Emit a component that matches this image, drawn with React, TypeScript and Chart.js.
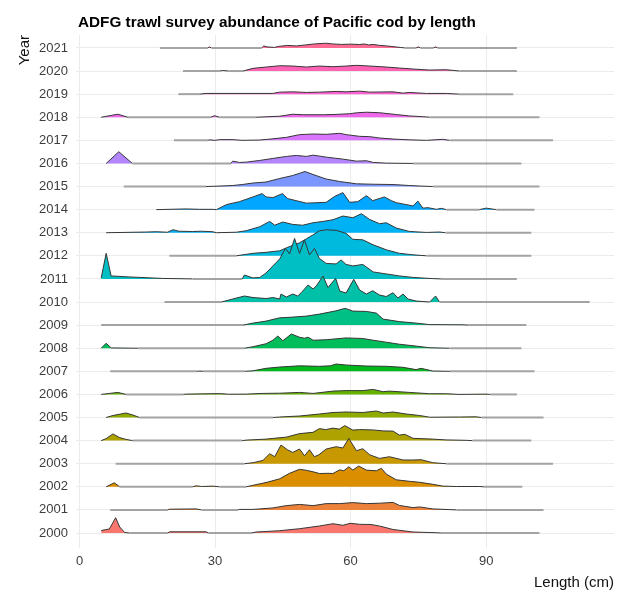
import React, { useEffect, useRef } from 'react';
import { Chart, registerables } from 'chart.js';

Chart.register(...registerables);

const TITLE = 'ADFG trawl survey abundance of Pacific cod by length';
const X_TITLE = 'Length (cm)';
const Y_TITLE = 'Year';
const YEARS = ['2000', '2001', '2002', '2003', '2004', '2005', '2006', '2007', '2008', '2009', '2010',
  '2011', '2012', '2013', '2014', '2015', '2016', '2017', '2018', '2019', '2020', '2021'];
const X_TICKS = [0, 30, 60, 90];

// [length (cm), relative abundance height] per survey year
const R2000 = [[4.8, 2.5], [6.6, 4], [8, 15.3], [8.9, 6], [10, 0.5], [11, 0], [19.5, 0], [20, 1.2], [28, 1.2], [28.5, 0], [38, 0], [39.1, 1], [44.3, 2.3], [48.7, 4.3], [53.1, 7], [56.1, 9.3], [58.3, 7.7], [59.9, 9.7], [62, 8.7], [64.5, 8.5], [66.4, 7], [69.4, 3.5], [73.8, 1], [79, 0.3], [80, 0], [101.8, 0]];
const R2001 = [[6.8, 0], [19.5, 0], [19.9, 0.7], [25.8, 1], [27, 0], [35, 0], [35.4, 0.5], [38.4, 0.5], [42.8, 2], [45.8, 4.3], [48.7, 5.5], [51.7, 4.3], [54.6, 6.3], [57.6, 6.3], [60.5, 7.3], [63.5, 6.3], [66.4, 6.7], [69.4, 7.5], [70.8, 4.5], [73.8, 2.3], [75.3, 3], [78.2, 1], [81.9, 0.3], [83.4, 0], [102.7, 0]];
const R2002 = [[5.9, 0], [7.7, 4], [8.9, 0], [25, 0], [25.8, 1], [27, 0.3], [29.5, 0.7], [31, 0], [36.9, 0], [38.4, 1.5], [41.5, 4.5], [44.3, 8], [46.5, 13.5], [48.7, 17.5], [50.2, 16.5], [51.7, 15], [53.1, 13.3], [55, 13.5], [56.1, 13.3], [57.6, 17], [58.5, 16], [59.6, 20], [60.5, 16.7], [61.8, 20.8], [63.5, 16.7], [65.7, 16], [66.8, 18.5], [67.9, 12.7], [70.1, 7], [73, 5.5], [75.3, 4.5], [78.2, 2.5], [80.4, 0.7], [83.4, 0.3], [88.6, 0.3], [89.5, 0], [98, 0]];
const R2003 = [[8, 0], [36.5, 0], [38.4, 1], [40.6, 3.3], [42.1, 10], [43.2, 7], [44.6, 18.7], [46, 14], [47.2, 11.3], [48.7, 14.7], [49.8, 8], [50.9, 14], [52, 7], [53, 9], [54.6, 14.7], [56.8, 17], [58.3, 15.7], [59.6, 25.3], [61.3, 13], [62.7, 15], [64.2, 9], [66.4, 5.3], [68.6, 7], [71.6, 3.7], [73.8, 3.7], [75.6, 4], [78.2, 1], [81.2, 0], [104.8, 0]];
const R2004 = [[4.8, 0], [5.9, 2], [7.4, 6.7], [8.9, 3], [10.3, 1.2], [11.8, 0], [36, 0], [36.9, 0.5], [41.3, 1.5], [45.8, 3.5], [48.7, 7], [51.7, 8.3], [53.1, 12], [54.5, 11], [56.1, 12.5], [57.5, 11.5], [58.7, 15], [60.5, 10.5], [62, 11], [64.9, 10.7], [67.2, 9.7], [69.4, 9.5], [70.8, 5.5], [72, 6.3], [73.8, 2.3], [78.2, 1.5], [81.2, 0.7], [85.6, 0.3], [87, 0], [100, 0]];
const R2005 = [[5.9, 0], [7.4, 2], [10.3, 4.5], [11.8, 2.5], [13.3, 0], [42.8, 0], [44.3, 0.5], [48.7, 1.5], [53.1, 3.5], [56.1, 5], [59, 5.5], [62.7, 5], [65.7, 6.5], [67.2, 4.5], [69.4, 5.5], [72.3, 3.5], [75.3, 2], [77.5, 0.3], [84.1, 0.5], [87.8, 0.7], [89, 0], [102.7, 0]];
const R2006 = [[4.8, 0], [8.5, 2], [10.3, 0], [23, 0], [23.6, 0.3], [31, 0.8], [33, 0.2], [36.9, 0.3], [40.6, 1], [44.3, 1.2], [48.7, 2], [51.7, 1], [56.1, 3.3], [59, 3.8], [62.7, 3.8], [65, 5], [67.2, 2.7], [68.6, 3.3], [73, 2], [77.5, 0.7], [81.2, 0.7], [84, 0], [90, 0.3], [91, 0], [96.8, 0]];
const R2007 = [[6.8, 0], [26, 0], [26.6, 0.3], [27.5, 0], [36.5, 0], [38.4, 0.5], [41.3, 3], [44.3, 4.3], [48.7, 5.5], [53.1, 5], [55.5, 5.5], [56.8, 7.3], [59, 6.3], [63.5, 5.3], [67.9, 5], [71.6, 4], [74.5, 1.7], [75.6, 3], [78.2, 0.3], [82, 0], [100.7, 0]];
const R2008 = [[4.8, 0], [5.9, 5], [7, 0.3], [13, 0], [36.5, 0], [38.4, 1.5], [41.3, 4.5], [42.8, 8], [43.9, 12.2], [45, 7.5], [46.9, 14.2], [48.7, 11], [49.8, 10], [50.6, 11], [51.7, 8], [54.6, 8.5], [59, 10.3], [62.7, 9.7], [65, 8], [67.9, 6], [70.8, 4], [73.8, 2.5], [77.5, 0.5], [81.9, 0], [97.8, 0]];
const R2009 = [[4.8, 0], [36.2, 0], [38.4, 2], [41.3, 4], [44.3, 7.3], [47.2, 8], [50.2, 9], [53.1, 11], [56.8, 14.3], [58.8, 16.8], [60.5, 14], [63.5, 13.7], [65.7, 12], [67.2, 6], [70.8, 3.5], [73.8, 2.3], [77.5, 0.5], [84.9, 0.3], [86, 0], [98.9, 0]];
const R2010 = [[18.8, 0], [31.4, 0], [33.9, 3], [36.5, 6], [38.4, 4.5], [41.3, 3.5], [42.8, 4.5], [44.3, 3], [44.6, 8], [45.8, 5], [47.2, 8], [48.3, 6], [49.1, 9.5], [50.6, 17], [51.7, 13], [52.4, 16], [53.9, 26], [55, 14.5], [56.7, 23.7], [57.6, 11], [59, 9], [60.7, 22.7], [62, 12], [63.5, 8], [64.9, 11.3], [66.4, 7], [67.9, 5.5], [69.4, 9.3], [70.5, 4], [71.6, 8], [72.7, 3], [74.5, 1], [77.5, 0], [78.8, 6], [79.7, 0], [112.9, 0]];
const R2011 = [[4.8, 1], [5.9, 25.6], [7, 3], [11, 2], [18.4, 0.5], [25, 0], [36, 0], [36.5, 3.9], [38.4, 1], [39.9, 1.5], [41.3, 6], [42.8, 13], [44.3, 20], [45.6, 30.5], [46.5, 25], [47.6, 40.5], [48.7, 25.5], [49.8, 39], [50.9, 24], [52, 30.5], [53.1, 20.5], [54.6, 15.5], [56.8, 15], [57.9, 19], [59, 14.5], [60.5, 13], [62.7, 14.5], [65, 7], [67.9, 5], [70.8, 3], [73.8, 1.5], [78.2, 0.3], [80, 0], [96.8, 0]];
const R2012 = [[19.9, 0], [34.7, 0], [38.4, 2.5], [41.3, 3.5], [44.3, 5], [45.8, 8], [48.7, 13], [50.2, 17], [51.7, 21], [53.1, 25], [54.6, 26], [56.8, 25.5], [59, 22.5], [60.5, 16.5], [62.7, 16], [65, 11], [67.9, 6], [70.8, 2.5], [73.8, 1], [76.8, 0], [100, 0]];
const R2013 = [[5.9, 0], [14.8, 0.7], [17, 1], [19.5, 0.5], [20.7, 3], [22, 1.5], [25, 1.2], [27, 1.5], [29.5, 1], [30.3, 0], [34.7, 0.5], [36.9, 2], [39.9, 6], [42.1, 11.3], [43.2, 7.5], [45, 10.7], [47.2, 8.3], [49.4, 7.5], [51.7, 10], [53.9, 11.3], [56.1, 13], [58.3, 16.7], [60.5, 15], [62.4, 19], [64.2, 13.3], [66.4, 9], [67.9, 10], [70.1, 4.7], [73, 1.3], [76.8, 0.3], [79.7, 0.7], [81, 0], [100, 0]];
const R2014 = [[17, 0], [23.6, 0.7], [26.6, 0.3], [29.5, 0.3], [30.3, 0], [32.5, 5], [35.4, 8], [38.4, 12.7], [40.4, 16], [41.3, 12.7], [42.8, 12], [44.9, 16], [46.1, 11], [50.2, 6.5], [54.6, 7.3], [56.5, 13.3], [58.3, 17], [59.8, 7.3], [61.6, 8], [63.5, 14], [64.9, 9], [67.5, 12.7], [69, 9], [70.1, 7], [73.8, 3.7], [74.9, 8.5], [76, 1.5], [77.1, 2], [79, 0.3], [80.1, 1.3], [81.2, 0], [88.5, 0], [90, 1.5], [92.3, 0], [100.7, 0]];
const R2015 = [[9.8, 0], [28, 0], [30, 0.3], [33.9, 1], [36, 2], [38.4, 3.5], [41.3, 4.5], [44.3, 8], [47.2, 11], [49.9, 15], [51.7, 12], [54.6, 7.5], [57.6, 5], [61.3, 2.7], [65, 2.3], [69.4, 2], [73, 1], [75.3, 0.5], [78.2, 0], [101.8, 0]];
const R2016 = [[5.9, 0], [8.7, 11.7], [11.7, 0], [33.5, 0], [33.9, 2.3], [35.4, 1], [36.9, 1.3], [39.9, 3], [42.8, 5], [45.8, 7], [48, 8], [50.2, 7], [51.7, 8.3], [54.6, 6.3], [58.3, 4.3], [61.3, 2.3], [63.5, 2.7], [65, 1], [67.9, 0.3], [73.8, 0], [97.8, 0]];
const R2017 = [[20.9, 0], [28.4, 0], [28.8, 0.5], [30, 0], [31, 0.7], [34, 0.7], [36, 0], [39.9, 0.3], [42.8, 1.5], [45.8, 3], [48.7, 5.7], [51.7, 6.3], [54.6, 6], [57.6, 7], [59, 5.7], [62, 4], [64.2, 3.7], [66.4, 2.3], [69.4, 1.3], [73, 0.5], [76.8, 0], [80.4, 1], [81.9, 0], [104.8, 0]];
const R2018 = [[4.8, 0], [8.5, 3], [10.7, 0], [29, 0], [29.9, 1.5], [31, 0], [39, 0], [44.3, 1], [47.2, 3], [49.5, 2.5], [51.7, 2.5], [54, 2.5], [56.1, 2.7], [59.8, 3.5], [61.5, 4.5], [63.5, 5], [66.4, 4.5], [70.1, 2.7], [73, 1.3], [76.8, 0.3], [77.5, 0], [101.8, 0]];
const R2019 = [[21.9, 0], [26.6, 0], [28, 0.7], [42.8, 0.7], [44.3, 2], [47.2, 2.3], [50.2, 1.7], [53.1, 2], [56.8, 2.7], [59, 2.3], [62, 3], [64.2, 2], [69.4, 2.3], [71.6, 1], [73, 1.7], [76.8, 0.7], [81.2, 0.7], [84, 0], [96, 0]];
const R2020 = [[22.9, 0], [31, 0], [31.7, 0.5], [33, 0], [36.2, 0], [38.4, 2.7], [41.3, 4], [44.3, 5.3], [47.2, 5], [50.2, 4], [53.1, 5], [56.1, 4.3], [59, 5], [61.3, 5.7], [64.2, 5], [67.9, 4], [70.8, 3], [73.8, 2], [77.5, 1], [81.2, 1.3], [84.1, 0], [96.8, 0]];
const R2021 = [[17.8, 0], [28.4, 0], [28.8, 1], [29.2, 0], [40.3, 0], [40.8, 2], [41.5, 1], [43.2, 0.5], [44, 1.5], [46, 2.5], [48, 2], [50, 3], [52, 4], [54.5, 4.7], [56, 4], [58, 3.5], [60, 3.8], [62, 3.4], [63, 4], [64, 3], [65, 3.5], [66.5, 2.5], [68, 2], [70, 1], [71, 0.5], [72, 0], [74.5, 0], [75, 1], [75.5, 0], [78.3, 0], [78.8, 1], [79.3, 0], [96.8, 0]];

const RIDGES = [R2000, R2001, R2002, R2003, R2004, R2005, R2006, R2007, R2008, R2009, R2010,
  R2011, R2012, R2013, R2014, R2015, R2016, R2017, R2018, R2019, R2020, R2021];

// ridge height scale (one row spacing = 23.1 height units)
const HEIGHT_SCALE = 1 / 23.1;

const FONT = '"Liberation Sans", Arial, Helvetica, sans-serif';

function hcl(h: number, c: number, l: number): string {
  const hr = (h * Math.PI) / 180;
  const u = c * Math.cos(hr);
  const v = c * Math.sin(hr);
  const Xn = 95.047, Yn = 100, Zn = 108.883;
  const den = Xn + 15 * Yn + 3 * Zn;
  const un = (4 * Xn) / den, vn = (9 * Yn) / den;
  const Y = l > 8 ? Yn * Math.pow((l + 16) / 116, 3) : (Yn * l) / 903.3;
  const up = u / (13 * l) + un;
  const vp = v / (13 * l) + vn;
  const X = (Y * 9 * up) / (4 * vp);
  const Z = (Y * (12 - 3 * up - 20 * vp)) / (4 * vp);
  const x = X / 100, y = Y / 100, z = Z / 100;
  const lin = [
    3.240479 * x - 1.53715 * y - 0.498535 * z,
    -0.969256 * x + 1.875992 * y + 0.041556 * z,
    0.055648 * x - 0.204043 * y + 1.057311 * z,
  ];
  const g = (t: number) => {
    const s = t <= 0.0031308 ? 12.92 * t : 1.055 * Math.pow(t, 1 / 2.4) - 0.055;
    return Math.round(255 * Math.min(1, Math.max(0, s)));
  };
  return `rgb(${lin.map(g).join(',')})`;
}

const titlePlugin = {
  id: 'ridgeTitle',
  afterDraw(chart: any) {
    const c = chart.ctx;
    c.save();
    c.font = `bold 15.3px ${FONT}`;
    c.fillStyle = '#000';
    c.textAlign = 'left';
    c.textBaseline = 'alphabetic';
    c.fillText(TITLE, 78, 26.5);
    c.restore();
  },
};

export default function App() {
  const ref = useRef<HTMLCanvasElement>(null);
  useEffect(() => {
    document.body.style.margin = '0';
    const n = YEARS.length;
    const colors = YEARS.map((_, i) => hcl(15 + (360 / n) * i, 100, 65));
    const datasets = RIDGES.map((pts, i) => {
      const isFlat = (ctx: any) => ctx.p0.parsed.y === i && ctx.p1.parsed.y === i;
      return {
        label: YEARS[i],
        data: pts.map(([x, h]) => ({ x, y: i + h * HEIGHT_SCALE })),
        backgroundColor: colors[i],
        borderColor: '#333333',
        borderWidth: 1,
        pointRadius: 0,
        tension: 0,
        fill: { value: i },
        segment: {
          borderColor: (ctx: any) => (isFlat(ctx) ? '#a3a3a3' : '#363636'),
          borderWidth: (ctx: any) => (isFlat(ctx) ? 2 : 1),
        },
      };
    });
    const chart = new Chart(ref.current as HTMLCanvasElement, {
      type: 'line',
      data: { datasets } as any,
      plugins: [titlePlugin],
      options: {
        animation: false,
        responsive: false,
        maintainAspectRatio: false,
        layout: { padding: { top: 35, right: 21, bottom: 0, left: 0 } },
        plugins: { legend: { display: false }, tooltip: { enabled: false }, title: { display: false } },
        scales: {
          x: {
            type: 'linear',
            min: -0.775,
            max: 118.3,
            afterBuildTicks: (s: any) => { s.ticks = X_TICKS.map((v) => ({ value: v })); },
            afterFit: (s: any) => { s.height = 51; },
            grid: { color: '#ebebeb', lineWidth: 1, drawTicks: false },
            border: { display: false },
            ticks: { padding: 6, color: '#3d3d3d', font: { family: FONT, size: 13 }, maxRotation: 0, callback: (v: any) => String(v) },
            title: { display: true, text: X_TITLE, align: 'end', color: '#111', font: { family: FONT, size: 15 }, padding: { top: 0, bottom: 7 } },
          },
          y: {
            type: 'linear',
            min: -0.649,
            max: 21.56,
            afterBuildTicks: (s: any) => { s.ticks = YEARS.map((_, i) => ({ value: i })); },
            afterFit: (s: any) => { s.width = 76; },
            grid: { color: '#ebebeb', lineWidth: 1, drawTicks: false },
            border: { display: false },
            ticks: { padding: 8, color: '#3d3d3d', font: { family: FONT, size: 13 }, callback: (v: any) => YEARS[Math.round(v)] ?? '' },
            title: { display: true, text: Y_TITLE, align: 'end', color: '#111', font: { family: FONT, size: 15 }, padding: { top: 16, bottom: 0 } },
          },
        },
      } as any,
    });
    return () => chart.destroy();
  }, []);
  return (
    <div style={{ width: 635, height: 599 }}>
      <canvas ref={ref} width={635} height={599} style={{ display: 'block' }} />
    </div>
  );
}
